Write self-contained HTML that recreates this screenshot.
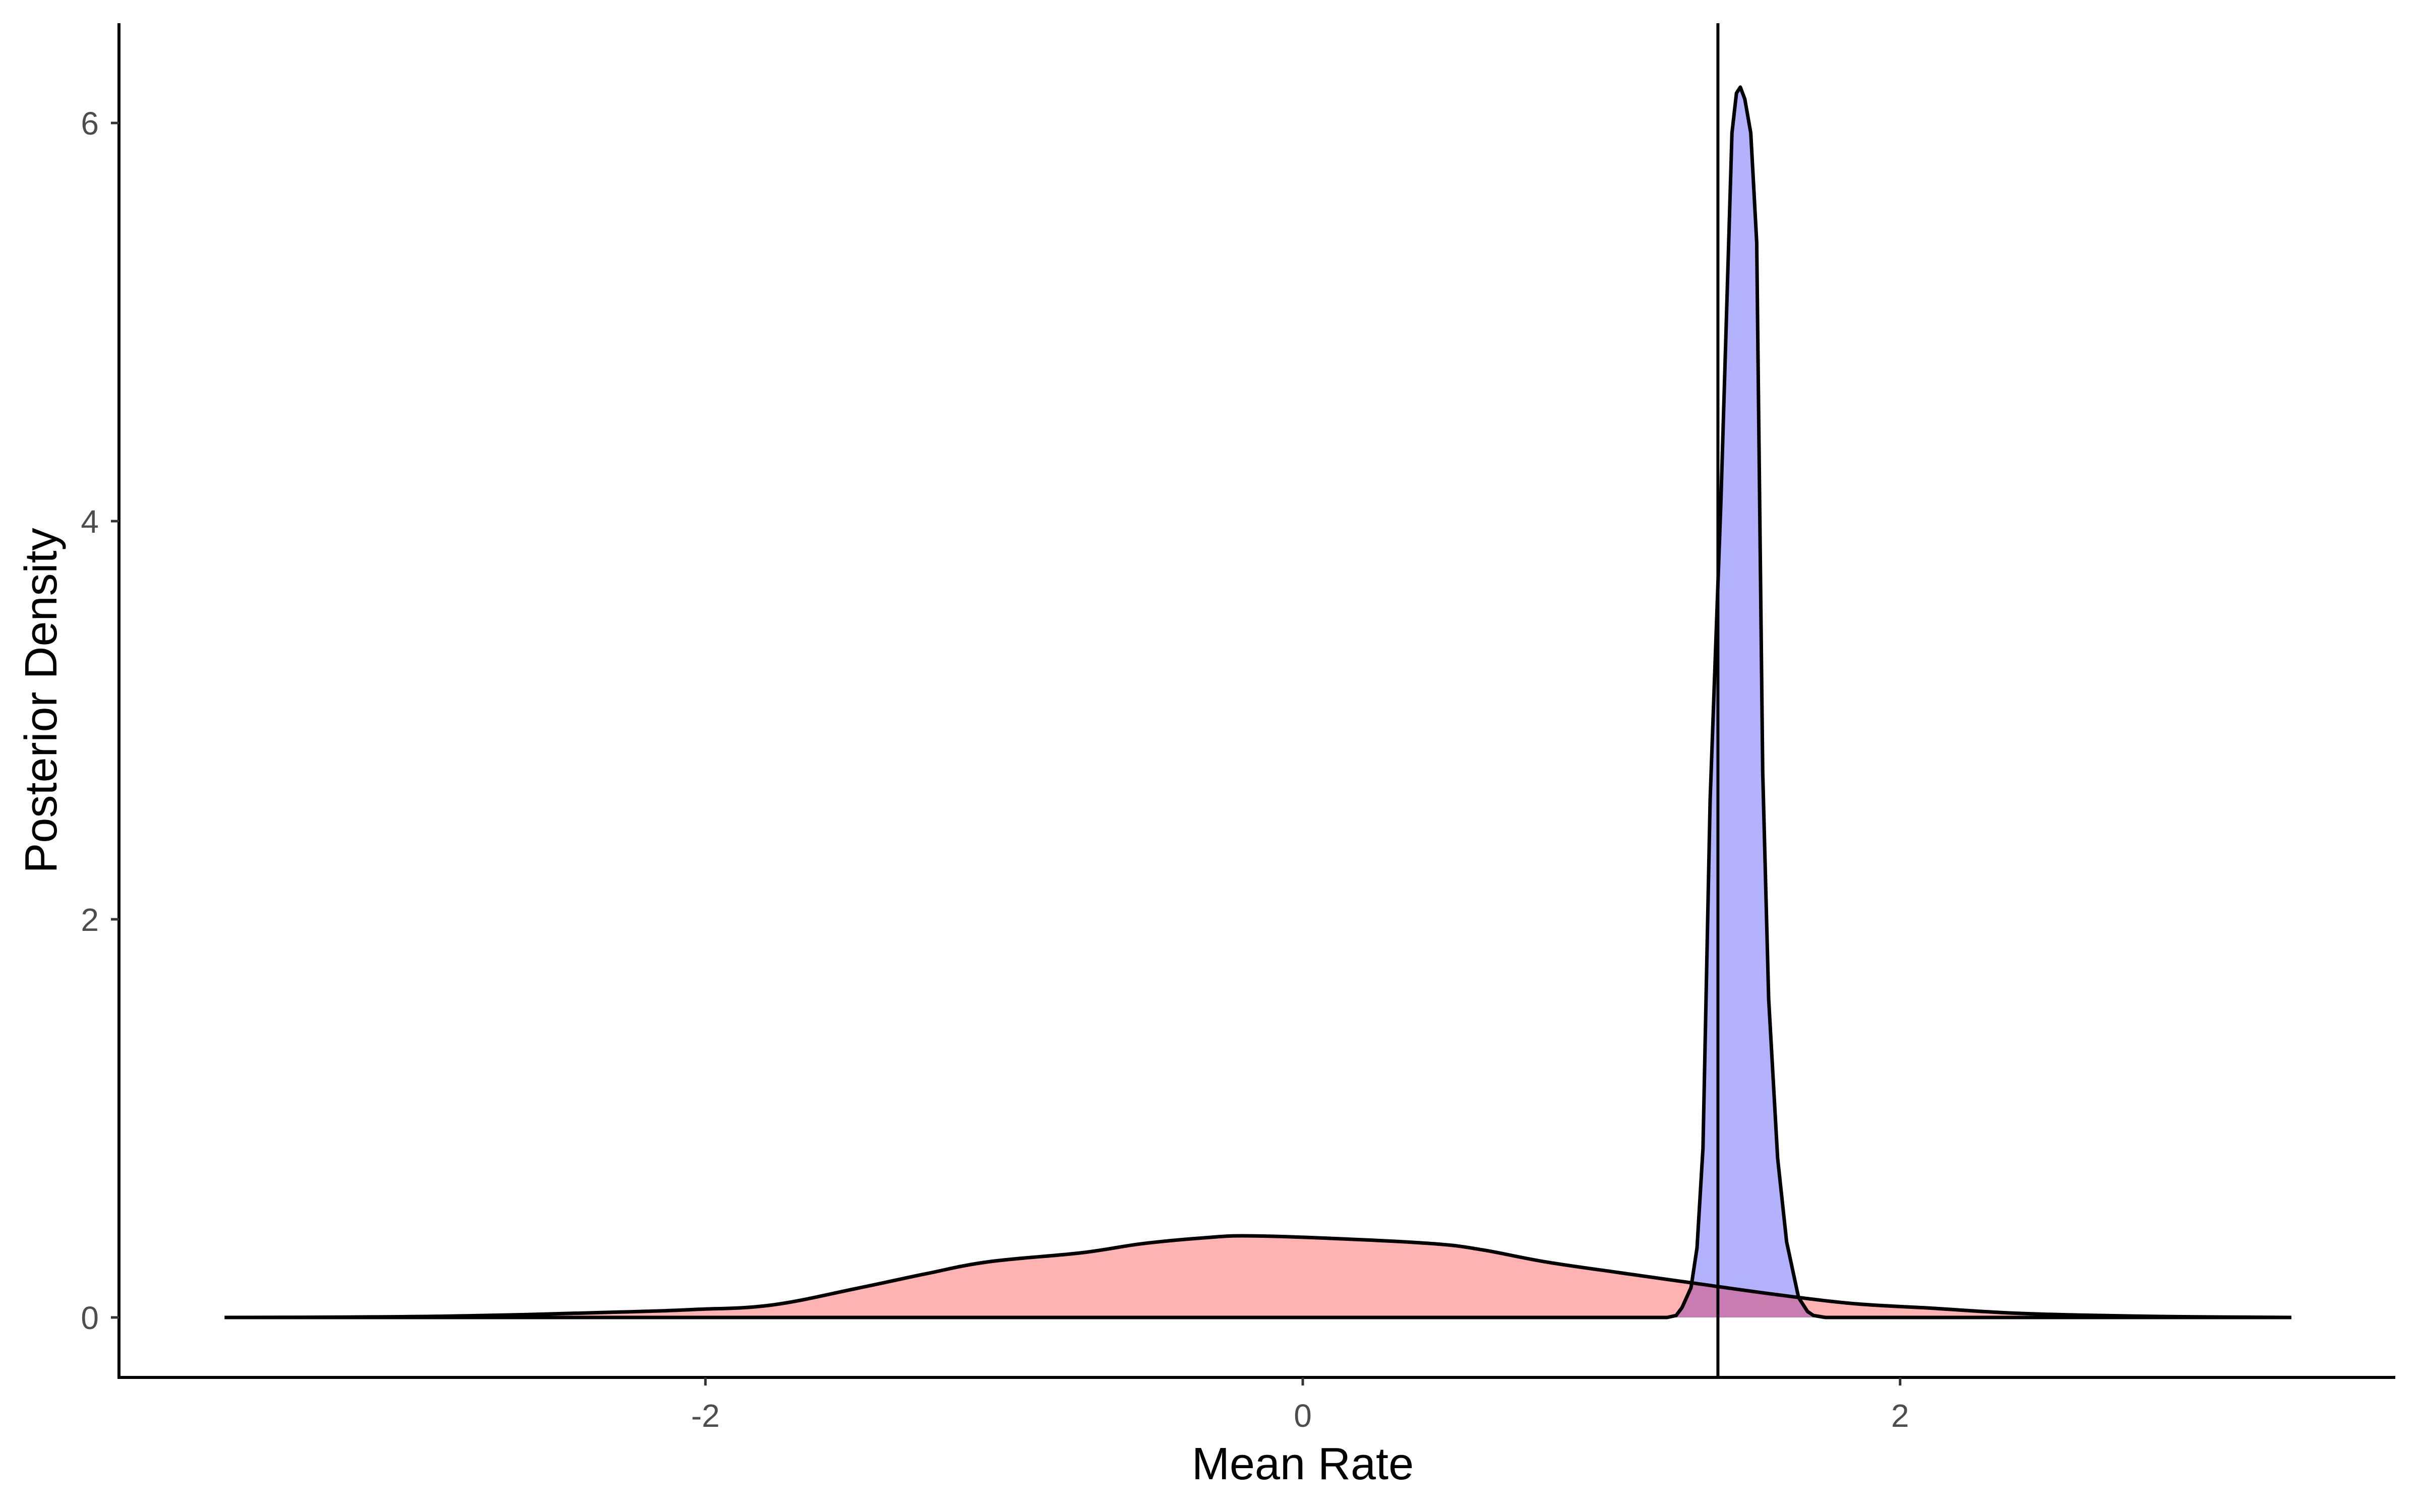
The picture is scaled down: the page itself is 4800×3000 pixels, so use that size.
<!DOCTYPE html>
<html><head><meta charset="utf-8"><style>
html,body{margin:0;padding:0;background:#fff;}
svg{display:block;font-family:"Liberation Sans",Arial,sans-serif;}
</style></head><body>
<svg id="chart" width="4800" height="3000" viewBox="0 0 4800 3000" xmlns="http://www.w3.org/2000/svg"></svg>
<script>
const redX = [-3.61,-3.2,-2.8,-2.29,-2.04,-1.78,-1.49,-1.26,-1.05,-0.74,-0.54,-0.33,-0.18,0.13,0.44,0.6,0.81,1.06,1.32,1.58,1.84,2.1,2.36,2.6,2.87,3.1,3.31];
const redY = [0,0.002,0.008,0.027,0.04,0.062,0.147,0.22,0.28,0.325,0.37,0.40,0.41,0.395,0.37,0.34,0.28,0.225,0.17,0.116,0.07,0.047,0.023,0.012,0.005,0.002,0];
const blueX = [-3.61,1.22,1.25,1.27,1.30,1.32,1.34,1.364,1.40,1.437,1.452,1.465,1.48,1.50,1.52,1.54,1.56,1.59,1.62,1.66,1.69,1.71,1.75,3.31];
const blueY = [0,0,0.01,0.05,0.15,0.35,0.85,2.6,4.1,5.95,6.15,6.18,6.12,5.95,5.4,2.74,1.6,0.8,0.38,0.1,0.03,0.01,0,0];
const xTicks = [-2,0,2];
const yTicks = [0,2,4,6];
const vLineX = 1.39;

const svg = document.getElementById('chart');
const NS = 'http://www.w3.org/2000/svg';
const X = v => 2584 + v*592.4;
const Y = v => 2614 - v*395;
const panel = {l:236,r:4751,t:46,b:2733};
function mk(tag, attrs){const e=document.createElementNS(NS,tag);for(const k in attrs)e.setAttribute(k,attrs[k]);svg.appendChild(e);return e;}
function linePath(xs,ys){let d='';for(let i=0;i<xs.length;i++)d+=(i?'L':'M')+X(xs[i]).toFixed(1)+','+Y(ys[i]).toFixed(1);return d;}
function smoothPath(xs,ys){
  const p=xs.map((x,i)=>[X(x),Y(ys[i])]);
  let d='M'+p[0][0].toFixed(1)+','+p[0][1].toFixed(1);
  for(let i=0;i<p.length-1;i++){
    const p0=p[Math.max(0,i-1)],p1=p[i],p2=p[i+1],p3=p[Math.min(p.length-1,i+2)];
    const t=0.18;
    let c1x=p1[0]+(p2[0]-p0[0])*t,c1y=p1[1]+(p2[1]-p0[1])*t;
    let c2x=p2[0]-(p3[0]-p1[0])*t,c2y=p2[1]-(p3[1]-p1[1])*t;
    c1y=Math.min(c1y,2614);c2y=Math.min(c2y,2614);
    d+='C'+c1x.toFixed(1)+','+c1y.toFixed(1)+' '+c2x.toFixed(1)+','+c2y.toFixed(1)+' '+p2[0].toFixed(1)+','+p2[1].toFixed(1);
  }
  return d;
}

const bf = mk('path',{d:linePath(blueX,blueY)+'Z',fill:'rgba(0,0,255,0.3)',stroke:'none'});


const rf = mk('path',{d:smoothPath(redX,redY)+'Z',fill:'rgba(255,0,0,0.3)',stroke:'none'});


const bl = mk('path',{d:linePath(blueX,blueY),fill:'none',stroke:'#000','stroke-width':7,'stroke-linejoin':'round'});


const rl = mk('path',{d:smoothPath(redX,redY),fill:'none',stroke:'#000','stroke-width':7,'stroke-linejoin':'round'});



const vl = mk('line',{x1:X(vLineX),x2:X(vLineX),y1:panel.t,y2:panel.b,stroke:'#000','stroke-width':6});



const ya = mk('line',{x1:panel.l,x2:panel.l,y1:panel.t,y2:panel.b+3,stroke:'#000','stroke-width':6});


const xa = mk('line',{x1:panel.l-3,x2:panel.r,y1:panel.b,y2:panel.b,stroke:'#000','stroke-width':6});



xTicks.forEach(t=>{
  const tk = mk('line',{x1:X(t),x2:X(t),y1:panel.b,y2:panel.b+16,stroke:'#333','stroke-width':5});
  
  
  const tx = mk('text',{x:X(t),y:2831,'font-size':64,fill:'#4d4d4d','text-anchor':'middle'});
  tx.textContent = t<0 ? '-'+Math.abs(t) : String(t);
  
  
});
yTicks.forEach(t=>{
  const tk = mk('line',{x1:panel.l-16,x2:panel.l,y1:Y(t),y2:Y(t),stroke:'#333','stroke-width':5});
  
  
  const tx = mk('text',{x:196,y:Y(t)+23,'font-size':64,fill:'#4d4d4d','text-anchor':'end'});
  tx.textContent = String(t);
  
  
});
const xt = mk('text',{x:2584,y:2935,'font-size':90,fill:'#000','text-anchor':'middle'});
xt.textContent = 'Mean Rate';


const yt = mk('text',{x:0,y:0,'font-size':90,fill:'#000','text-anchor':'middle',transform:'translate(112,1390) rotate(-90)'});
yt.textContent = 'Posterior Density';


</script>
</body></html>
